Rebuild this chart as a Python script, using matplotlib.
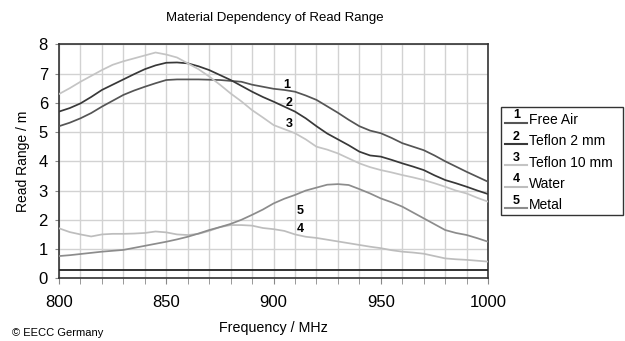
import matplotlib
matplotlib.use("Agg")
import matplotlib.pyplot as plt
from matplotlib.lines import Line2D
from matplotlib.patches import Rectangle
import numpy as np

plt.rcParams["font.family"] = ["Liberation Sans", "DejaVu Sans"]

freq = np.arange(800, 1001, 5)

free_air = [5.2, 5.32, 5.47, 5.65, 5.87, 6.07, 6.27, 6.42, 6.55, 6.67, 6.78,
            6.8, 6.8, 6.8, 6.79, 6.78, 6.75, 6.72, 6.62, 6.55, 6.48, 6.44,
            6.38, 6.25, 6.1, 5.88, 5.66, 5.42, 5.2, 5.05, 4.96, 4.8, 4.62,
            4.5, 4.38, 4.2, 4.0, 3.82, 3.64, 3.47, 3.3]
teflon_2 = [5.7, 5.82, 5.98, 6.2, 6.44, 6.62, 6.8, 6.98, 7.15, 7.28, 7.37,
            7.38, 7.35, 7.25, 7.12, 6.95, 6.78, 6.58, 6.38, 6.2, 6.04, 5.87,
            5.7, 5.47, 5.2, 4.95, 4.75, 4.55, 4.33, 4.2, 4.16, 4.05, 3.93,
            3.82, 3.7, 3.52, 3.36, 3.25, 3.13, 3.0, 2.88]
teflon_10 = [6.3, 6.5, 6.72, 6.92, 7.12, 7.3, 7.42, 7.52, 7.62, 7.72, 7.65,
             7.55, 7.35, 7.15, 6.9, 6.62, 6.32, 6.05, 5.75, 5.5, 5.24, 5.1,
             4.96, 4.75, 4.5, 4.4, 4.27, 4.1, 3.93, 3.8, 3.7, 3.62, 3.53,
             3.45, 3.36, 3.25, 3.13, 3.0, 2.9, 2.75, 2.62]
water = [1.71, 1.58, 1.5, 1.43, 1.5, 1.52, 1.52, 1.53, 1.55, 1.6, 1.57,
         1.5, 1.48, 1.52, 1.62, 1.75, 1.82, 1.82, 1.8, 1.72, 1.68, 1.62,
         1.5, 1.42, 1.38, 1.32, 1.26, 1.2, 1.14, 1.08, 1.03, 0.96, 0.91,
         0.88, 0.84, 0.76, 0.68, 0.65, 0.63, 0.6, 0.57]
metal = [0.76, 0.79, 0.83, 0.87, 0.91, 0.94, 0.97, 1.04, 1.11, 1.18, 1.25,
         1.33, 1.42, 1.53, 1.65, 1.75, 1.86, 2.0, 2.17, 2.35, 2.56, 2.72,
         2.85, 3.0, 3.1, 3.2, 3.22, 3.19, 3.05, 2.9, 2.73, 2.6, 2.45, 2.25,
         2.05, 1.85, 1.65, 1.55, 1.48, 1.37, 1.25]

labels = ["Free Air", "Teflon 2 mm", "Teflon 10 mm", "Water", "Metal"]
series = [free_air, teflon_2, teflon_10, water, metal]
colors = ["#555555", "#383838", "#c4c4c4", "#bdbdbd", "#8c8c8c"]
# inline number labels (freq, value)
tag_pos = [(906, 6.6), (907, 5.98), (907.5, 5.27), (912.5, 1.69), (912.5, 2.3)]
threshold = 0.3

fig = plt.figure(figsize=(6.25, 3.41), dpi=100)
ax = fig.add_axes([0.0944, 0.1839, 0.6866, 0.6861])

ax.set_xlim(800, 1000)
ax.set_ylim(0, 8)
ax.set_xticks(np.arange(800, 1001, 10), minor=True)
ax.set_xticks([800, 850, 900, 950, 1000])
ax.set_yticks(range(0, 9))
ax.grid(True, which="both", color="#d2d2d2", lw=1.0, zorder=0)
ax.tick_params(axis="x", which="both", direction="out", length=4,
               color="#888888", labelsize=12, pad=8)
ax.tick_params(axis="y", direction="out", length=3, color="#888888",
               labelsize=12, pad=5)
for s in ax.spines.values():
    s.set_color("#333333")
    s.set_linewidth(1.2)

for vals, c in zip(series, colors):
    ax.plot(freq, vals, color=c, lw=1.25, zorder=3)
ax.axhline(threshold, color="#222222", lw=1.3, zorder=3)

for i, (fx, fy) in enumerate(tag_pos):
    ax.text(fx, fy, str(i + 1), fontsize=9, fontweight="bold",
            ha="center", va="center", zorder=4)

ax.set_xlabel("Frequency / MHz", fontsize=10.3, labelpad=8)
ax.set_ylabel("Read Range / m", fontsize=10, labelpad=6)
fig.text(0.44, 0.948, "Material Dependency of Read Range", fontsize=9.5,
         ha="center", va="center")
fig.text(0.019, 0.022, "\u00a9 EECC Germany", fontsize=8, ha="left",
         va="center")

# legend drawn by hand: short line with its number above it
box_x0, box_y0, box_w, box_h = 0.8016, 0.37, 0.195, 0.316
fig.patches.append(Rectangle((box_x0, box_y0), box_w, box_h,
                             transform=fig.transFigure, fill=False,
                             edgecolor="#333333", lw=1.0))
for i, (lab, c) in enumerate(zip(labels, colors)):
    y = 0.648 - i * 0.0625
    fig.lines.append(Line2D([0.808, 0.843], [y - 0.008, y - 0.008],
                            transform=fig.transFigure, color=c, lw=1.5))
    fig.text(0.826, y + 0.014, str(i + 1), fontsize=9, fontweight="bold",
             ha="center", va="center")
    fig.text(0.847, y, lab, fontsize=10, ha="left", va="center")

fig.savefig("out.png", dpi=100)
